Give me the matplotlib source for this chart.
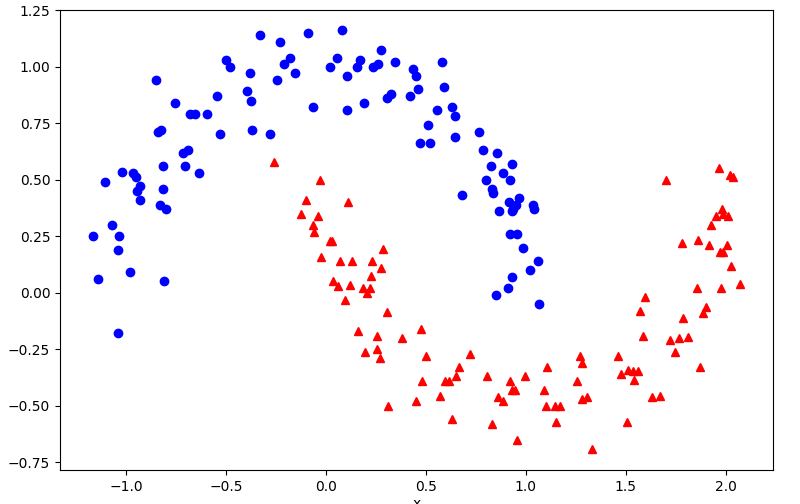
import matplotlib
matplotlib.use("Agg")
import matplotlib.pyplot as plt

blue_x = [-1.165,-1.14,-1.105,-1.07,-1.04,-1.035,-1.04,-1.02,-0.98,-0.965,-0.95,-0.945,-0.93,-0.93,
          -0.85,-0.84,-0.83,-0.825,-0.815,-0.815,-0.81,-0.80,-0.755,-0.715,-0.705,-0.69,-0.68,-0.655,
          -0.635,-0.595,-0.545,-0.53,-0.50,-0.48,-0.395,-0.38,-0.375,-0.37,-0.33,-0.28,-0.245,-0.23,
          -0.21,-0.18,-0.155,-0.09,-0.065,0.02,0.055,0.08,0.105,0.105,0.155,0.17,0.19,0.235,0.26,0.275,
          0.305,0.325,0.345,0.42,0.435,0.45,0.46,0.47,0.51,0.52,0.555,0.58,0.59,0.63,0.645,0.645,0.68,
          0.765,0.785,0.80,0.825,0.83,0.835,0.855,0.865,0.885,0.915,0.92,0.93,0.935,0.965,0.955,0.985,
          0.93,0.91,0.85,1.035,1.04,1.06,1.065,0.93,0.95,0.92,1.02]
blue_y = [0.25,0.06,0.49,0.30,0.19,0.25,-0.18,0.535,0.09,0.53,0.51,0.45,0.47,0.41,
          0.94,0.71,0.39,0.72,0.56,0.46,0.05,0.37,0.84,0.62,0.56,0.63,0.79,0.79,
          0.53,0.79,0.87,0.70,1.03,1.00,0.89,0.97,0.85,0.72,1.14,0.70,0.94,1.11,
          1.01,1.04,0.97,1.15,0.82,1.00,1.04,1.16,0.96,0.81,1.00,1.03,0.84,1.00,1.01,1.075,
          0.86,0.88,1.02,0.87,0.99,0.96,0.90,0.66,0.74,0.66,0.81,1.02,0.91,0.82,0.78,0.69,0.43,
          0.71,0.63,0.50,0.56,0.46,0.44,0.62,0.36,0.53,0.40,0.50,0.57,0.37,0.42,0.26,0.20,
          0.07,0.02,-0.01,0.39,0.37,0.14,-0.05,0.36,0.39,0.26,0.10]

red_x = [-0.26,-0.125,-0.10,-0.065,-0.06,-0.04,-0.03,-0.025,0.02,0.03,0.035,0.06,0.07,0.095,0.11,
         0.12,0.13,0.16,0.185,0.195,0.205,0.22,0.225,0.23,0.255,0.255,0.27,0.275,0.285,0.305,0.31,
         0.38,0.45,0.48,0.475,0.50,0.57,0.595,0.615,0.63,0.65,0.665,0.72,0.805,0.83,0.86,0.885,0.92,
         0.93,0.945,0.955,0.998,1.09,1.105,1.10,1.145,1.15,1.17,1.255,1.27,1.28,1.28,1.305,1.33,
         1.46,1.475,1.505,1.51,1.535,1.54,1.56,1.57,1.595,1.585,1.63,1.67,1.70,1.72,1.745,1.765,1.78,
         1.785,1.81,1.855,1.86,1.87,1.885,1.90,1.915,1.925,1.95,1.965,1.97,1.975,1.98,1.985,1.985,
         2.01,2.02,2.025,2.035,2.07,2.005]
red_y = [0.58,0.35,0.41,0.30,0.27,0.34,0.50,0.16,0.23,0.23,0.05,0.03,0.14,-0.03,0.40,
         0.035,0.14,-0.17,0.02,-0.26,0.0,0.02,0.075,0.14,-0.19,-0.25,-0.29,0.11,0.195,-0.085,-0.50,
         -0.20,-0.48,-0.39,-0.16,-0.28,-0.455,-0.39,-0.39,-0.56,-0.37,-0.33,-0.27,-0.37,-0.58,-0.46,-0.48,-0.39,
         -0.43,-0.43,-0.65,-0.37,-0.43,-0.33,-0.50,-0.50,-0.57,-0.50,-0.39,-0.28,-0.31,-0.47,-0.46,-0.69,
         -0.28,-0.36,-0.57,-0.34,-0.345,-0.385,-0.345,-0.08,-0.02,-0.19,-0.46,-0.455,0.50,-0.21,-0.26,-0.20,0.22,
         -0.11,-0.195,0.02,0.235,-0.33,-0.09,-0.065,0.21,0.30,0.34,0.55,0.18,0.02,0.37,0.18,0.35,
         0.34,0.52,0.12,0.51,0.04,0.21]

fig = plt.figure(figsize=(8, 5.04), dpi=100)
ax = fig.add_axes([0.075, 0.067, 0.891, 0.913])
ax.plot(blue_x, blue_y, 'bo')
ax.plot(red_x, red_y, 'r^')
ax.set_xlim(-1.33, 2.235)
ax.set_ylim(-0.785, 1.25)
ax.set_xlabel('x', labelpad=2)
ax.set_ylabel('y', rotation=0, labelpad=12)
fig.savefig('out.png')
